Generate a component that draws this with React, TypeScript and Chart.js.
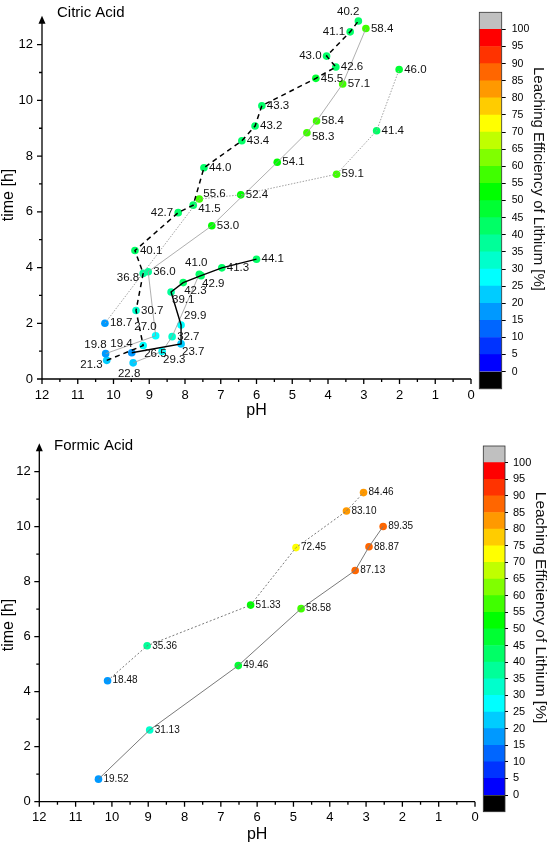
import React, { useEffect, useRef } from 'react';
import { Chart, registerables } from 'chart.js';

Chart.register(...registerables);

const FONT = "'Liberation Sans', Arial, Helvetica, sans-serif";

// ---- Citric acid: black dashed run ----
const citricDashedPH = [10.19, 9.17, 9.37, 9.17, 9.4, 8.19, 7.77, 7.47, 6.41, 6.04, 5.85, 4.34, 3.78, 4.04, 3.38, 3.15];
const citricDashedTime = [0.67, 1.2, 2.46, 3.79, 4.61, 5.97, 6.24, 7.58, 8.55, 9.08, 9.81, 10.79, 11.2, 11.59, 12.46, 12.85];
const citricDashedLE = [21.3, 26.5, 30.7, 36.8, 40.1, 42.7, 41.5, 44.0, 43.4, 43.2, 43.3, 45.5, 42.6, 43.0, 41.1, 40.2];

// ---- Citric acid: black solid run ----
const citricSolidPH = [9.49, 8.11, 8.11, 8.39, 8.05, 7.55, 6.97, 6.0];
const citricSolidTime = [0.94, 1.26, 1.94, 3.12, 3.46, 3.71, 3.99, 4.3];
const citricSolidLE = [19.4, 23.7, 29.9, 39.1, 42.3, 42.9, 41.3, 44.1];

// ---- Citric acid: grey solid run ----
const citricGreyPH = [10.22, 8.82, 9.03, 7.25, 5.42, 4.59, 4.32, 3.59, 2.94];
const citricGreyTime = [0.91, 1.55, 3.85, 5.5, 7.78, 8.84, 9.26, 10.59, 12.58];
const citricGreyLE = [19.8, 27.0, 36.0, 53.0, 54.1, 58.3, 58.4, 57.1, 58.4];

// ---- Citric acid: grey dotted run ----
const citricDottedPH = [10.24, 7.6, 6.44, 3.76, 2.64, 2.01];
const citricDottedTime = [2.0, 6.46, 6.61, 7.35, 8.91, 11.11];
const citricDottedLE = [18.7, 55.6, 52.4, 59.1, 41.4, 46.0];

// ---- Citric acid: short grey run ----
const citricShortPH = [9.45, 8.64, 8.36, 7.6];
const citricShortTime = [0.58, 0.99, 1.52, 3.76];
const citricShortLE = [22.8, 29.3, 32.7, 41.0];

// ---- Formic acid ----
const formicSolidPH = [10.37, 8.96, 6.52, 4.79, 3.3, 2.92, 2.53];
const formicSolidTime = [0.82, 2.61, 4.95, 7.02, 8.41, 9.27, 10.01];
const formicSolidLE = [19.52, 31.13, 49.46, 58.58, 87.13, 88.87, 89.35];

const formicDottedPH = [10.12, 9.03, 6.18, 4.93, 3.54, 3.07];
const formicDottedTime = [4.4, 5.67, 7.15, 9.24, 10.57, 11.24];
const formicDottedLE = [18.48, 35.36, 51.33, 72.45, 83.1, 84.46];

// colour scale steps (below 0, 0..100 by 5, above 100)
const legendSteps = [-5, 0, 5, 10, 15, 20, 25, 30, 35, 40, 45, 50, 55, 60, 65, 70, 75, 80, 85, 90, 95, 100, 105];
const legendTicks = [0, 5, 10, 15, 20, 25, 30, 35, 40, 45, 50, 55, 60, 65, 70, 75, 80, 85, 90, 95, 100];
const legendColors = [
  '#000000', '#0000ff', '#0033ff', '#0066ff', '#0099ff', '#00ccff', '#00ffff', '#00ffcc',
  '#00ff99', '#00ff66', '#00ff33', '#00ff00', '#40ff00', '#80ff00', '#c0ff00', '#ffff00',
  '#ffcc00', '#ff9900', '#ff6600', '#ff3300', '#ff0000', '#c0c0c0',
];

// label placement next to each point: [dx, dy, align]
const ANCHORS: Record<string, [number, number, CanvasTextAlign]> = {
  r: [5, 0, 'left'],
  l: [-5, 0, 'right'],
  t: [-3, -11, 'center'],
  b: [-4, 11, 'center'],
  tl: [1, -9, 'right'],
  tr: [3, -9, 'left'],
  br: [1, 8, 'left'],
  bl: [-4, 4, 'right'],
  rb: [5, 4, 'left'],
  rt: [4, -5, 'left'],
};

const colorFor = (v: number) => {
  for (let i = 0; i < legendSteps.length - 1; i++) {
    if (v >= legendSteps[i] && v < legendSteps[i + 1]) return legendColors[i];
  }
  return v < 0 ? legendColors[0] : legendColors[legendColors.length - 1];
};

interface Series {
  ph: number[];
  time: number[];
  le: number[];
  anchor: string[];
  color: string;
  width: number;
  dash: number[];
}

interface Box {
  left: number;
  right: number;
  top: number;
  bottom: number;
}

interface PanelProps {
  top: number;
  title: string;
  series: Series[];
  digits: number;
  labelSize: number;
  area: Box;
  xPad: number;
  yPad: number;
  xTitleY: number;
  yTitleY: number;
  titleX: number;
  titleY: number;
  bar: Box & { tick: number; pad: number; font: number; titleX: number; titleY: number; titleSize: number };
}

const W = 550;
const H = 423;
const BAR_W = 80;

const Panel: React.FC<PanelProps> = (p) => {
  const plotRef = useRef<HTMLCanvasElement>(null);
  const barRef = useRef<HTMLCanvasElement>(null);

  useEffect(() => {
    const ctx = plotRef.current?.getContext('2d');
    const bctx = barRef.current?.getContext('2d');
    if (!ctx || !bctx) return;

    const pointData = p.series.flatMap((s) => s.ph.map((x, i) => ({ x, y: s.time[i] })));
    const pointColors = p.series.flatMap((s) => s.le.map(colorFor));

    const lineSets = p.series.map((s) => ({
      data: s.ph.map((x, i) => ({ x, y: s.time[i] })),
      showLine: true,
      borderColor: s.color,
      borderWidth: s.width,
      borderDash: s.dash,
      pointRadius: 0,
      pointHoverRadius: 0,
      order: 0,
    }));

    const axesPlugin = {
      id: 'axesAndLabels',
      afterDatasetsDraw(chart: any) {
        const c = chart.ctx as CanvasRenderingContext2D;
        const { x, y } = chart.scales;
        const x0 = x.getPixelForValue(12);
        const x1 = x.getPixelForValue(0);
        const yb = y.getPixelForValue(0);
        const yt = y.getPixelForValue(13);
        c.save();
        c.strokeStyle = '#000';
        c.lineWidth = 1.3;
        c.beginPath();
        c.moveTo(x0, yb);
        c.lineTo(x1, yb);
        c.moveTo(x0, yb);
        c.lineTo(x0, yt + 5);
        for (let v = 0; v <= 12; v += 0.5) {
          const px = x.getPixelForValue(v);
          c.moveTo(px, yb);
          c.lineTo(px, yb + (v % 1 === 0 ? 5 : 3));
        }
        for (let v = 0; v <= 12; v += 1) {
          const py = y.getPixelForValue(v);
          c.moveTo(x0, py);
          c.lineTo(x0 - (v % 2 === 0 ? 5 : 3), py);
        }
        c.stroke();
        c.fillStyle = '#000';
        c.beginPath();
        c.moveTo(x0, yt - 1);
        c.lineTo(x0 - 3.5, yt + 7);
        c.lineTo(x0 + 3.5, yt + 7);
        c.closePath();
        c.fill();

        c.textBaseline = 'middle';
        c.font = `16px ${FONT}`;
        c.textAlign = 'center';
        c.fillText('pH', (x0 + x1) / 2, p.xTitleY);
        c.save();
        c.translate(9, p.yTitleY);
        c.rotate(-Math.PI / 2);
        c.fillText('time [h]', 0, 0);
        c.restore();
        c.font = `15px ${FONT}`;
        c.textAlign = 'left';
        c.fillText(p.title, p.titleX, p.titleY);

        c.font = `${p.labelSize}px ${FONT}`;
        c.fillStyle = '#111';
        p.series.forEach((s) =>
          s.le.forEach((v, i) => {
            const [dx, dy, align] = ANCHORS[s.anchor[i]];
            c.textAlign = align;
            c.fillText(v.toFixed(p.digits), x.getPixelForValue(s.ph[i]) + dx, y.getPixelForValue(s.time[i]) + dy);
          }),
        );
        c.restore();
      },
    };

    const plot = new Chart(ctx, {
      type: 'scatter',
      data: {
        datasets: [
          ...lineSets,
          {
            data: pointData,
            backgroundColor: pointColors,
            borderWidth: 0,
            pointRadius: 3.8,
            pointHoverRadius: 3.8,
            order: 1,
          },
        ],
      } as any,
      options: {
        animation: false,
        responsive: false,
        events: [],
        layout: { padding: { left: 0, right: W - p.area.right, top: p.area.top, bottom: 0 } },
        plugins: { legend: { display: false }, tooltip: { enabled: false } },
        scales: {
          x: {
            type: 'linear',
            min: 0,
            max: 12,
            reverse: true,
            grid: { display: false, drawTicks: false },
            border: { display: false },
            ticks: { stepSize: 1, autoSkip: false, maxRotation: 0, padding: p.xPad, color: '#000', font: { family: FONT, size: 13 } },
            afterFit: (s: any) => {
              s.height = H - p.area.bottom;
            },
          },
          y: {
            type: 'linear',
            min: 0,
            max: 13,
            grid: { display: false, drawTicks: false },
            border: { display: false },
            ticks: { padding: p.yPad, color: '#000', font: { family: FONT, size: 13 } },
            afterBuildTicks: (s: any) => {
              s.ticks = [0, 2, 4, 6, 8, 10, 12].map((value) => ({ value }));
            },
            afterFit: (s: any) => {
              s.width = p.area.left;
            },
          },
        },
      } as any,
      plugins: [axesPlugin],
    });

    const b = p.bar;
    const framePlugin = {
      id: 'barFrame',
      afterDraw(chart: any) {
        const c = chart.ctx as CanvasRenderingContext2D;
        const a = chart.chartArea;
        c.save();
        c.strokeStyle = '#333';
        c.lineWidth = 0.8;
        c.strokeRect(a.left, a.top, a.right - a.left, a.bottom - a.top);
        c.fillStyle = '#111';
        c.font = `${b.titleSize}px ${FONT}`;
        c.textAlign = 'center';
        c.textBaseline = 'middle';
        c.translate(b.titleX, b.titleY);
        c.rotate(Math.PI / 2);
        c.fillText('Leaching Efficiency of Lithium [%]', 0, 0);
        c.restore();
      },
    };

    const bar = new Chart(bctx, {
      type: 'bar',
      data: {
        labels: [''],
        datasets: legendColors.map((col, i) => ({
          data: [[legendSteps[i], legendSteps[i + 1]]],
          backgroundColor: col,
          borderWidth: 0,
          grouped: false,
          barPercentage: 1,
          categoryPercentage: 1,
        })),
      } as any,
      options: {
        animation: false,
        responsive: false,
        events: [],
        layout: { padding: { left: b.left, right: 0, top: b.top, bottom: H - b.bottom } },
        plugins: { legend: { display: false }, tooltip: { enabled: false } },
        scales: {
          x: { display: false },
          y: {
            position: 'right',
            min: -5,
            max: 105,
            grid: { drawOnChartArea: false, drawTicks: true, tickLength: b.tick, color: '#000', lineWidth: 1 },
            border: { display: false },
            ticks: { padding: b.pad, color: '#000', font: { family: FONT, size: b.font } },
            afterBuildTicks: (s: any) => {
              s.ticks = legendTicks.map((value) => ({ value }));
            },
            afterFit: (s: any) => {
              s.width = BAR_W - b.right;
            },
          },
        },
      } as any,
      plugins: [framePlugin],
    });

    return () => {
      plot.destroy();
      bar.destroy();
    };
  }, [p]);

  return (
    <div style={{ position: 'absolute', left: 0, top: p.top, width: W, height: H }}>
      <canvas ref={plotRef} width={W} height={H} style={{ position: 'absolute', left: 0, top: 0, width: W, height: H }} />
      <canvas
        ref={barRef}
        width={BAR_W}
        height={H}
        style={{ position: 'absolute', left: 470, top: 0, width: BAR_W, height: H }}
      />
    </div>
  );
};

const citricSeries: Series[] = [
  {
    ph: citricDashedPH,
    time: citricDashedTime,
    le: citricDashedLE,
    anchor: ['bl', 'br', 'r', 'bl', 'r', 'l', 'rb', 'r', 'r', 'r', 'r', 'r', 'r', 'l', 'l', 'tl'],
    color: '#000',
    width: 1.5,
    dash: [5, 4],
  },
  {
    ph: citricSolidPH,
    time: citricSolidTime,
    le: citricSolidLE,
    anchor: ['tl', 'br', 'tr', 'br', 'br', 'br', 'r', 'r'],
    color: '#000',
    width: 1.4,
    dash: [],
  },
  {
    ph: citricGreyPH,
    time: citricGreyTime,
    le: citricGreyLE,
    anchor: ['tl', 'tl', 'r', 'r', 'r', 'rb', 'r', 'r', 'r'],
    color: '#9a9a9a',
    width: 0.8,
    dash: [],
  },
  {
    ph: citricDottedPH,
    time: citricDottedTime,
    le: citricDottedLE,
    anchor: ['r', 'rt', 'r', 'r', 'r', 'r'],
    color: '#a0a0a0',
    width: 1,
    dash: [1.5, 1.5],
  },
  {
    ph: citricShortPH,
    time: citricShortTime,
    le: citricShortLE,
    anchor: ['b', 'br', 'r', 't'],
    color: '#9a9a9a',
    width: 0.8,
    dash: [],
  },
];

const formicSeries: Series[] = [
  {
    ph: formicSolidPH,
    time: formicSolidTime,
    le: formicSolidLE,
    anchor: ['r', 'r', 'r', 'r', 'r', 'r', 'r'],
    color: '#7a7a7a',
    width: 1,
    dash: [],
  },
  {
    ph: formicDottedPH,
    time: formicDottedTime,
    le: formicDottedLE,
    anchor: ['r', 'r', 'r', 'r', 'r', 'r'],
    color: '#7a7a7a',
    width: 1,
    dash: [2, 2],
  },
];

const citricProps: PanelProps = {
  top: 0,
  title: 'Citric Acid',
  series: citricSeries,
  digits: 1,
  labelSize: 11.5,
  area: { left: 42, right: 471, top: 10.7, bottom: 379 },
  xPad: 9,
  yPad: 9,
  xTitleY: 411,
  yTitleY: 195,
  titleX: 57,
  titleY: 13,
  bar: { left: 9.3, right: 31.7, top: 12.2, bottom: 388.8, tick: 4, pad: 6, font: 10.5, titleX: 68, titleY: 179, titleSize: 15 },
};

const formicProps: PanelProps = {
  top: 423,
  title: 'Formic Acid',
  series: formicSeries,
  digits: 2,
  labelSize: 10,
  area: { left: 39.3, right: 475, top: 21.2, bottom: 378.7 },
  xPad: 8,
  yPad: 8.6,
  xTitleY: 412,
  yTitleY: 202,
  titleX: 54,
  titleY: 23,
  bar: { left: 13.3, right: 35, top: 23, bottom: 388.7, tick: 3, pad: 5, font: 11, titleX: 70, titleY: 184.5, titleSize: 15.5 },
};

export default function App() {
  return (
    <div style={{ position: 'absolute', left: 0, top: 0, width: W, height: 846, background: '#fff' }}>
      <Panel {...citricProps} />
      <Panel {...formicProps} />
    </div>
  );
}
